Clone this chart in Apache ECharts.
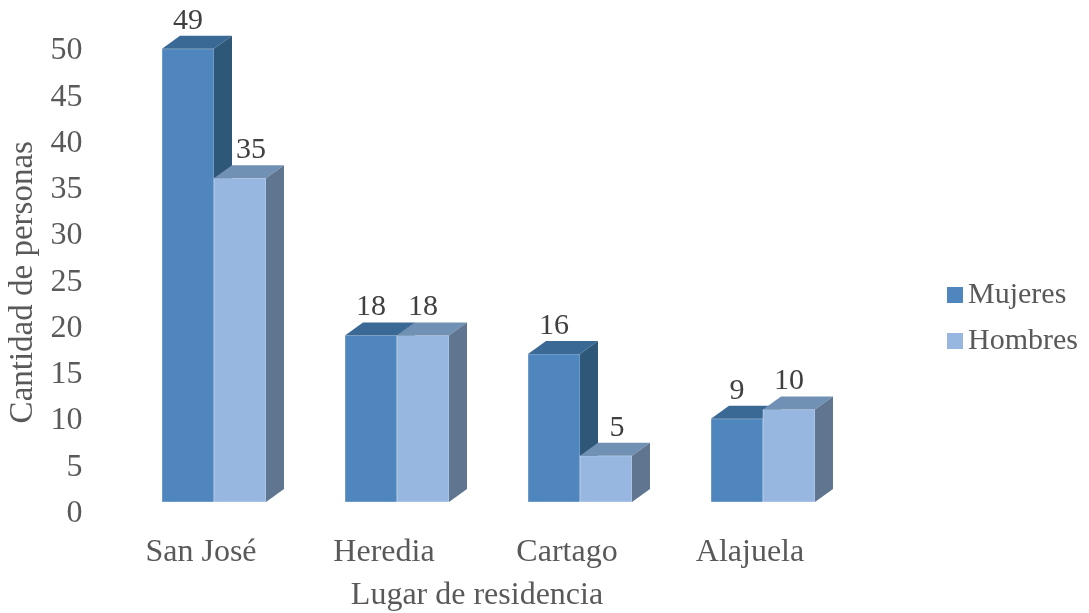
<!DOCTYPE html>
<html>
<head>
<meta charset="utf-8">
<script src="https://cdn.jsdelivr.net/npm/echarts@6/dist/echarts.min.js"></script>
<style>
  html, body { margin: 0; padding: 0; background: #fff; }
  #chart { width: 1089px; height: 613px; }
</style>
</head>
<body>
<div id="chart"></div>
<script>
// data
var categories = ["San José", "Heredia", "Cartago", "Alajuela"];
var mujeres = [49, 18, 16, 9];
var hombres = [35, 18, 5, 10];
var seriesNames = ["Mujeres", "Hombres"];

var FONT = '"Liberation Serif", "Times New Roman", serif';
var TEXT = "#595959";

// 3d look: depth offset and lift of the front plane above the axis
var DX = 18, DY = 13, LIFT = 11.5, BAR_RATIO = 52 / 183;

var palette = [
  { front: "#4f86bd", top: "#3b6995", side: "#2f5777" },
  { front: "#97b7e1", top: "#7191b4", side: "#5f7590" }
];

function makeRender(idx) {
  var col = palette[idx];
  return function (params, api) {
    var cat = api.value(0);
    var val = api.value(1);
    var band = api.size([1, 0])[0];
    var w = band * BAR_RATIO;
    var c = api.coord([cat, val]);
    var b = api.coord([cat, 0]);
    var x0 = idx === 0 ? c[0] - w : c[0];
    var yTop = c[1] - LIFT;
    var yBase = b[1] - LIFT;

    // hombres label steps right when the mujeres bar next to it is taller
    var lx = x0 + w / 2;
    if (idx === 1 && mujeres[cat] > val) lx += 11;

    return {
      type: "group",
      children: [
        {
          type: "rect",
          shape: { x: x0, y: yTop, width: w, height: yBase - yTop },
          style: { fill: col.front, stroke: "rgba(255,255,255,0.35)", lineWidth: 1 }
        },
        {
          type: "polygon",
          shape: { points: [[x0, yTop], [x0 + DX, yTop - DY], [x0 + w + DX, yTop - DY], [x0 + w, yTop]] },
          style: { fill: col.top }
        },
        {
          type: "polygon",
          shape: { points: [[x0 + w, yTop], [x0 + w + DX, yTop - DY], [x0 + w + DX, yBase - DY], [x0 + w, yBase]] },
          style: { fill: col.side }
        },
        {
          type: "text",
          style: {
            text: String(val),
            x: lx,
            y: yTop - DY - 15,
            align: "center",
            verticalAlign: "middle",
            fill: "#404040",
            font: "30px " + FONT
          }
        }
      ]
    };
  };
}

function toPairs(arr) {
  return arr.map(function (v, i) { return [i, v]; });
}

var chart = echarts.init(document.getElementById("chart"));
chart.setOption({
  animation: false,
  grid: { left: 122.5, top: 51, width: 732, height: 462.5, outerBoundsMode: "none", containLabel: false },
  legend: {
    orient: "vertical",
    left: 942,
    top: 275,
    icon: "rect",
    itemWidth: 16,
    itemHeight: 16,
    itemGap: 16,
    data: seriesNames,
    textStyle: { fontFamily: FONT, fontSize: 30, color: TEXT, lineHeight: 30 }
  },
  xAxis: {
    type: "category",
    data: categories,
    axisLine: { show: false },
    axisTick: { show: false },
    axisLabel: {
      margin: 23,
      fontFamily: FONT,
      fontSize: 32,
      color: TEXT,
      padding: [0, 26, 0, 0]
    },
    name: "Lugar de residencia",
    nameLocation: "middle",
    nameGap: 66,
    nameTextStyle: { fontFamily: FONT, fontSize: 32, color: TEXT, padding: [0, 23, 0, 0] }
  },
  yAxis: {
    type: "value",
    min: 0,
    max: 50,
    interval: 5,
    axisLine: { show: false },
    axisTick: { show: false },
    splitLine: { show: false },
    axisLabel: { margin: 40, fontFamily: FONT, fontSize: 32, color: TEXT },
    name: "Cantidad de personas",
    nameLocation: "middle",
    nameGap: 71,
    nameTextStyle: { fontFamily: FONT, fontSize: 33, color: TEXT }
  },
  series: [
    {
      name: seriesNames[0],
      type: "custom",
      renderItem: makeRender(0),
      itemStyle: { color: palette[0].front },
      encode: { x: 0, y: 1 },
      data: toPairs(mujeres)
    },
    {
      name: seriesNames[1],
      type: "custom",
      renderItem: makeRender(1),
      itemStyle: { color: palette[1].front },
      encode: { x: 0, y: 1 },
      data: toPairs(hombres)
    }
  ]
});
</script>
</body>
</html>
